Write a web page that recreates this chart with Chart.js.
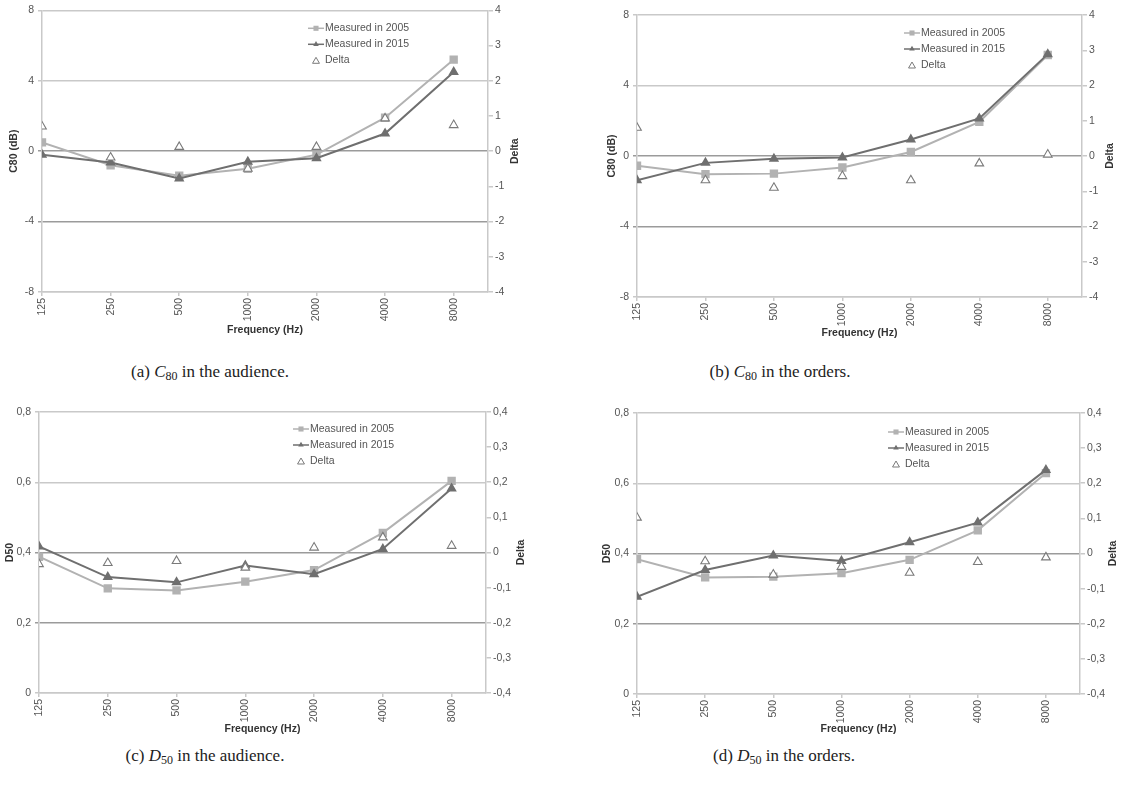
<!DOCTYPE html>
<html>
<head>
<meta charset="utf-8">
<script src="https://cdn.jsdelivr.net/npm/chart.js@4.4.1/dist/chart.umd.min.js"></script>
<style>
  body { margin: 0; background: #fff; width: 1123px; height: 789px; position: relative; overflow: hidden; }
  .panel { position: absolute; }
  .caption {
    position: absolute;
    transform: translate(-50%, -50%);
    white-space: nowrap;
    font-family: "Liberation Serif", "DejaVu Serif", serif;
    font-size: 17px;
    color: #222;
  }
  .caption sub { font-size: 12px; vertical-align: -3px; }
</style>
</head>
<body>
<div class="panel" style="left:0px;top:0px"><canvas id="c80Audience" width="545" height="345"></canvas></div>
<div class="panel" style="left:560px;top:0px"><canvas id="c80Orders" width="563" height="345"></canvas></div>
<div class="panel" style="left:0px;top:390px"><canvas id="d50Audience" width="545" height="350"></canvas></div>
<div class="panel" style="left:560px;top:390px"><canvas id="d50Orders" width="563" height="350"></canvas></div>

<div class="caption" style="left:210px;top:373px">(a) <i>C</i><sub>80</sub> in the audience.</div>
<div class="caption" style="left:780px;top:373px">(b) <i>C</i><sub>80</sub> in the orders.</div>
<div class="caption" style="left:205px;top:757px">(c) <i>D</i><sub>50</sub> in the audience.</div>
<div class="caption" style="left:784px;top:757px">(d) <i>D</i><sub>50</sub> in the orders.</div>

<script>
const frequencies = ['125', '250', '500', '1000', '2000', '4000', '8000'];

// C80 (dB), audience
const c80Audience2005 = [0.5, -0.8, -1.4, -1.0, -0.2, 1.9, 5.2];
const c80Audience2015 = [-0.2, -0.65, -1.55, -0.6, -0.4, 1.0, 4.5];
const c80AudienceDelta = [0.7, -0.18, 0.12, -0.5, 0.12, 0.93, 0.74];

// C80 (dB), orders
const c80Orders2005 = [-0.55, -1.03, -1.0, -0.65, 0.23, 1.94, 5.73];
const c80Orders2015 = [-1.38, -0.39, -0.15, -0.09, 0.94, 2.13, 5.78];
const c80OrdersDelta = [0.8, -0.69, -0.9, -0.57, -0.69, -0.21, 0.04];

// D50, audience
const d50Audience2005 = [0.388, 0.298, 0.292, 0.317, 0.35, 0.456, 0.604];
const d50Audience2015 = [0.417, 0.33, 0.315, 0.363, 0.338, 0.41, 0.582];
const d50AudienceDelta = [-0.033, -0.03, -0.024, -0.043, 0.014, 0.043, 0.019];

// D50, orders
const d50Orders2005 = [0.384, 0.332, 0.334, 0.344, 0.382, 0.466, 0.629];
const d50Orders2015 = [0.277, 0.353, 0.394, 0.379, 0.432, 0.488, 0.638];
const d50OrdersDelta = [0.102, -0.022, -0.06, -0.038, -0.055, -0.024, -0.011];

// axis ranges [min, max, step]
const c80Range = [-8, 8, 4];
const c80DeltaRange = [-4, 4, 1];
const d50Range = [0, 0.8, 0.2];
const d50DeltaRange = [-0.4, 0.4, 0.1];

const seriesLabels = ['Measured in 2005', 'Measured in 2015', 'Delta'];

const SANS = '"Liberation Sans", Arial, sans-serif';
const LIGHT = '#c9c9c9';
const DARK = '#9b9b9b';

function toPoints(values) {
    return values.map((v, i) => ({ x: i, y: v }));
}

function formatTick(v, decimals) {
    if (Math.abs(v) < 1e-9) return '0';
    return v.toFixed(decimals).replace('.', ',');
}

function drawMarker(ctx, style, x, y, r, fill, stroke, lw) {
    ctx.beginPath();
    if (style === 'rect') {
        const s = r / Math.SQRT2;
        ctx.rect(x - s, y - s, 2 * s, 2 * s);
    } else {
        const h = r * 1.5;
        const w = r * Math.sqrt(3) / 2;
        ctx.moveTo(x, y - r);
        ctx.lineTo(x + w, y - r + h);
        ctx.lineTo(x - w, y - r + h);
        ctx.closePath();
    }
    ctx.fillStyle = fill;
    ctx.fill();
    if (lw) {
        ctx.lineWidth = lw;
        ctx.strokeStyle = stroke;
        ctx.stroke();
    }
}

// vertical legend inside the plot + bottom-to-top "Delta" title on the right
const panelDecor = {
    id: 'panelDecor',
    afterDatasetsDraw(chart, args, opts) {
        const ctx = chart.ctx;
        const area = chart.chartArea;
        ctx.save();
        ctx.font = '10.5px ' + SANS;
        ctx.textBaseline = 'middle';
        ctx.textAlign = 'left';
        chart.data.datasets.forEach((ds, i) => {
            const x = area.left + opts.legendX;
            const y = area.top + opts.legendY + i * 16;
            if (ds.showLine !== false) {
                ctx.strokeStyle = ds.borderColor;
                ctx.lineWidth = 1.5;
                ctx.beginPath();
                ctx.moveTo(x, y);
                ctx.lineTo(x + 16, y);
                ctx.stroke();
                drawMarker(ctx, ds.pointStyle, x + 8, y, ds.pointRadius * 0.8, ds.borderColor, null, 0);
            } else {
                drawMarker(ctx, ds.pointStyle, x + 8, y + 1, ds.pointRadius * 0.8, '#fff', ds.borderColor, 1);
            }
            ctx.fillStyle = '#555';
            ctx.fillText(ds.label, x + 17, y);
        });

        ctx.translate(opts.rightTitleX, (area.top + area.bottom) / 2);
        ctx.rotate(-Math.PI / 2);
        ctx.textAlign = 'center';
        ctx.font = 'bold 10.5px ' + SANS;
        ctx.fillStyle = '#333';
        ctx.fillText('Delta', 0, 0);
        ctx.restore();
    }
};

function buildPanel(id, values, p) {
    const [lMin, lMax, lStep] = p.left;
    const [rMin, rMax, rStep] = p.right;
    const mid = (lMin + lMax) / 2;

    new Chart(document.getElementById(id), {
        type: 'line',
        data: {
            datasets: [{
                label: seriesLabels[0],
                data: toPoints(values[0]),
                yAxisID: 'y',
                borderColor: '#b2b2b2',
                backgroundColor: '#b2b2b2',
                borderWidth: 2,
                pointStyle: 'rect',
                pointRadius: 4.5,
                order: 2
            }, {
                label: seriesLabels[1],
                data: toPoints(values[1]),
                yAxisID: 'y',
                borderColor: '#6f6f6f',
                backgroundColor: '#6f6f6f',
                borderWidth: 2,
                pointStyle: 'triangle',
                pointRadius: 4,
                order: 1
            }, {
                label: seriesLabels[2],
                data: toPoints(values[2]),
                yAxisID: 'y1',
                showLine: false,
                borderColor: '#7a7a7a',
                backgroundColor: '#ffffff',
                pointStyle: 'triangle',
                pointRadius: 5,
                pointBorderWidth: 1.1,
                order: 0
            }]
        },
        options: {
            responsive: false,
            animation: false,
            events: [],
            layout: { padding: { top: p.top, left: 0, right: 0, bottom: 0 } },
            plugins: {
                legend: { display: false },
                tooltip: { enabled: false },
                panelDecor: { legendX: p.legendX, legendY: p.legendY, rightTitleX: p.rightTitleX }
            },
            scales: {
                x: {
                    type: 'linear',
                    min: 0,
                    max: frequencies.length - 0.5,
                    afterBuildTicks: (scale) => {
                        scale.ticks = frequencies.map((f, i) => ({ value: i }));
                    },
                    afterFit: (scale) => { scale.height = p.bottom; },
                    grid: { drawOnChartArea: false, color: LIGHT, tickLength: 4, lineWidth: 1.5 },
                    border: { color: LIGHT, width: 1.5 },
                    ticks: {
                        autoSkip: false,
                        minRotation: 90,
                        maxRotation: 90,
                        padding: 2,
                        color: '#555',
                        font: { family: SANS, size: 10.5 },
                        callback: (v) => frequencies[v]
                    },
                    title: {
                        display: true,
                        text: 'Frequency (Hz)',
                        color: '#333',
                        font: { family: SANS, size: 10.5, weight: 'bold' },
                        padding: { top: 0, bottom: p.freqPad }
                    }
                },
                y: {
                    position: 'left',
                    min: lMin,
                    max: lMax,
                    afterFit: (scale) => { scale.width = p.leftW; },
                    grid: {
                        lineWidth: 1.5,
                        tickLength: 4,
                        color: (c) => {
                            const v = c.tick ? c.tick.value : lMax;
                            return (v <= mid + 1e-9 && v > lMin + 1e-9) ? DARK : LIGHT;
                        }
                    },
                    border: { color: LIGHT, width: 1.5 },
                    ticks: {
                        stepSize: lStep,
                        padding: 4,
                        color: '#555',
                        font: { family: SANS, size: 10.5 },
                        callback: (v) => formatTick(v, p.decimals)
                    },
                    title: {
                        display: true,
                        text: p.leftTitle,
                        color: '#333',
                        font: { family: SANS, size: 10.5, weight: 'bold' },
                        padding: { top: p.leftTitlePad, bottom: 0 }
                    }
                },
                y1: {
                    position: 'right',
                    min: rMin,
                    max: rMax,
                    afterFit: (scale) => { scale.width = p.rightW; },
                    grid: { drawOnChartArea: false, color: LIGHT, lineWidth: 1.5, tickLength: 5 },
                    border: { color: LIGHT, width: 1.5 },
                    ticks: {
                        stepSize: rStep,
                        padding: 2,
                        color: '#555',
                        font: { family: SANS, size: 10.5 },
                        callback: (v) => formatTick(v, p.decimals)
                    }
                }
            }
        },
        plugins: [panelDecor]
    });
}

buildPanel('c80Audience', [c80Audience2005, c80Audience2015, c80AudienceDelta], {
    left: c80Range, right: c80DeltaRange, decimals: 0, leftTitle: 'C80 (dB)',
    top: 10, leftW: 42, rightW: 57, bottom: 53,
    leftTitlePad: 8, freqPad: 9, rightTitleX: 515, legendX: 266, legendY: 18
});

buildPanel('c80Orders', [c80Orders2005, c80Orders2015, c80OrdersDelta], {
    left: c80Range, right: c80DeltaRange, decimals: 0, leftTitle: 'C80 (dB)',
    top: 15, leftW: 77, rightW: 41, bottom: 48,
    leftTitlePad: 46, freqPad: 6, rightTitleX: 550, legendX: 267, legendY: 18
});

buildPanel('d50Audience', [d50Audience2005, d50Audience2015, d50AudienceDelta], {
    left: d50Range, right: d50DeltaRange, decimals: 1, leftTitle: 'D50',
    top: 22, leftW: 39, rightW: 59, bottom: 47,
    leftTitlePad: 4, freqPad: 5, rightTitleX: 521, legendX: 254, legendY: 17
});

buildPanel('d50Orders', [d50Orders2005, d50Orders2015, d50OrdersDelta], {
    left: d50Range, right: d50DeltaRange, decimals: 1, leftTitle: 'D50',
    top: 23, leftW: 77, rightW: 43, bottom: 46,
    leftTitlePad: 41, freqPad: 5, rightTitleX: 553, legendX: 251, legendY: 19
});
</script>
</body>
</html>
